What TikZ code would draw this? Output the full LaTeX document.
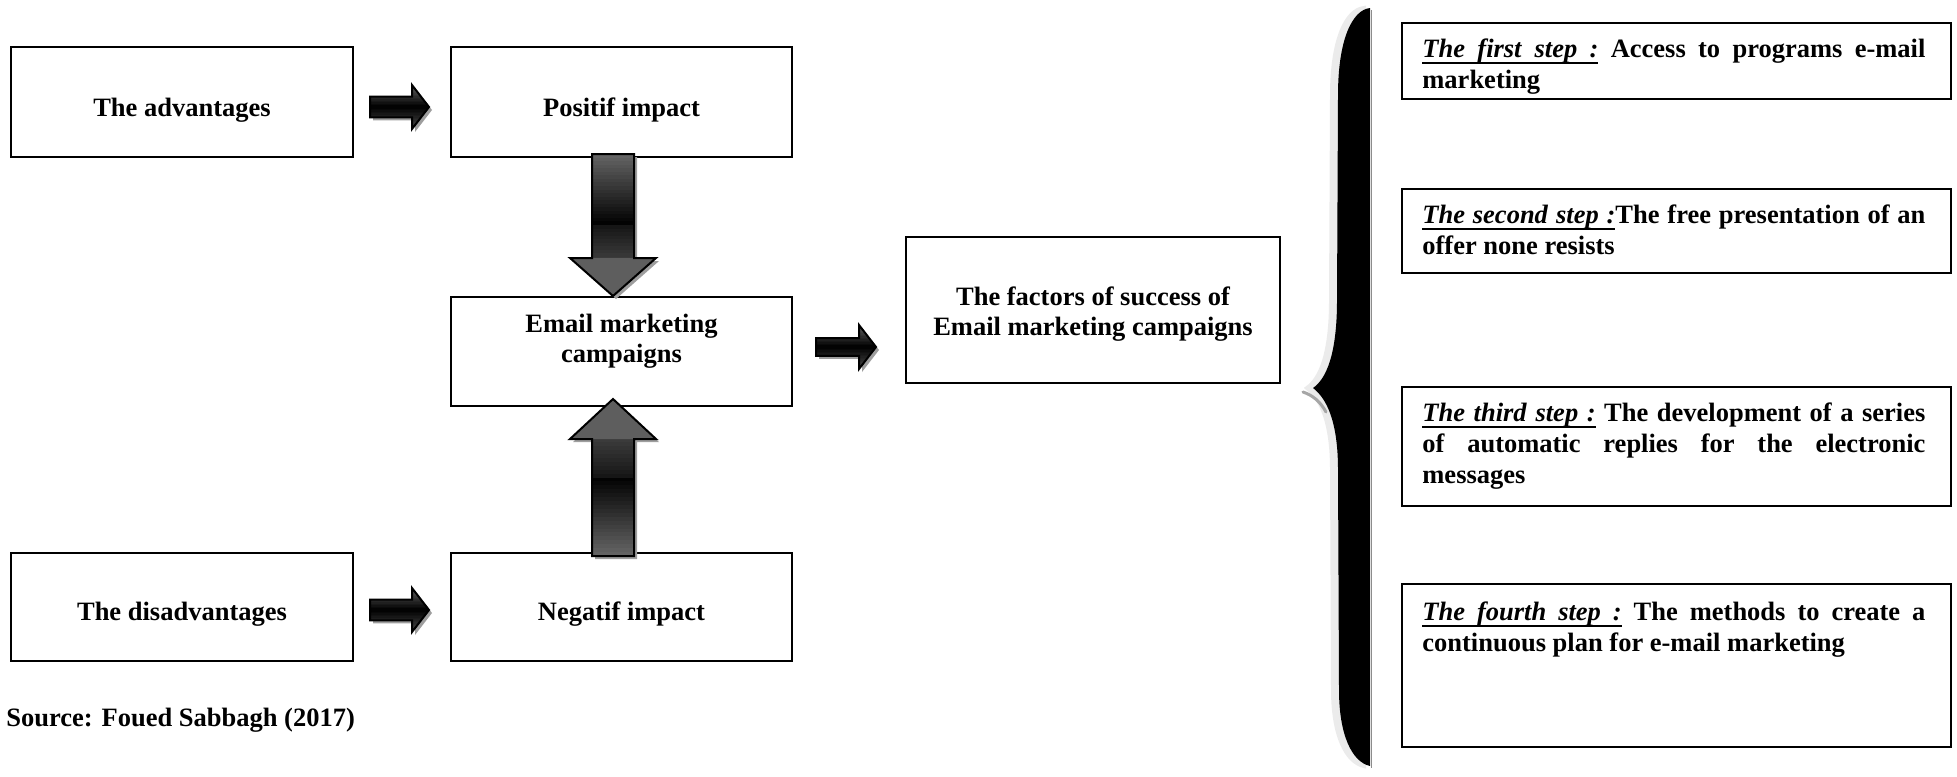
\documentclass[tikz,border=0pt]{standalone}
\usepackage{fontspec}
\setmainfont{Liberation Serif}
\usetikzlibrary{calc}
\hyphenpenalty=10000
\exhyphenpenalty=10000

% underlined word, and an underlined space that still stretches when justified
\newcommand\ulw[1]{\setbox0=\hbox{#1}\rlap{\rule[-3.4pt]{\wd0}{0.8pt}}\box0\relax}
\newcommand\uls{\leaders\hrule height -2.6pt depth 3.4pt\hskip 0.25em plus 0.125em minus 0.08em\relax}

% horizontal block arrow: #1 tail, #2 tip, #3 half thickness of the shaft
\newcommand\HArrow[3]{%
  \begin{scope}[transform canvas={shift={(1.5pt,-1.5pt)}}]
    \fill[ashadow] let \p1=(#1), \p2=(#2) in
      ({\x1},{\y1+#3}) -- ({\x2-8.5pt},{\y1+#3}) -- ({\x2-8.5pt},{\y1+11pt}) -- ({\x2},{\y1})
      -- ({\x2-8.5pt},{\y1-11pt}) -- ({\x2-8.5pt},{\y1-#3}) -- ({\x1},{\y1-#3}) -- cycle;
  \end{scope}
  \begin{scope}
    \clip let \p1=(#1), \p2=(#2) in
      ({\x1},{\y1+#3}) -- ({\x2-8.5pt},{\y1+#3}) -- ({\x2-8.5pt},{\y1+11pt}) -- ({\x2},{\y1})
      -- ({\x2-8.5pt},{\y1-11pt}) -- ({\x2-8.5pt},{\y1-#3}) -- ({\x1},{\y1-#3}) -- cycle;
    % gradient across the arrow: grey at the top, black in the middle, grey below
    \foreach \i in {0,...,29} {
      \pgfmathsetmacro\tt{(\i+0.5)/30}
      \pgfmathsetmacro\cc{ifthenelse(\tt<0.5, 60+40*(2*\tt), 100-30*(2*\tt-1))}
      \fill[black!\cc] let \p1=(#1), \p2=(#2) in
        ({\x1-1pt},{\y1+11.5pt-23pt*\i/30}) rectangle ({\x2+1pt},{\y1+11.5pt-23pt*(\i+1.4)/30});
    }
  \end{scope}
  \draw[aline] let \p1=(#1), \p2=(#2) in
    ({\x1},{\y1+#3}) -- ({\x2-8.5pt},{\y1+#3}) -- ({\x2-8.5pt},{\y1+11pt}) -- ({\x2},{\y1})
    -- ({\x2-8.5pt},{\y1-11pt}) -- ({\x2-8.5pt},{\y1-#3}) -- ({\x1},{\y1-#3}) -- cycle;
}

% vertical block arrow: #1 tail, #2 tip, #3 signed head length
\newcommand\VArrow[3]{%
  \begin{scope}[transform canvas={shift={(1.5pt,-1.5pt)}}]
    \fill[ashadow] let \p1=(#1), \p2=(#2) in
      ({\x1-10.5pt},{\y1}) -- ({\x1-10.5pt},{\y2+#3}) -- ({\x1-21.5pt},{\y2+#3}) -- ({\x1},{\y2})
      -- ({\x1+21.5pt},{\y2+#3}) -- ({\x1+10.5pt},{\y2+#3}) -- ({\x1+10.5pt},{\y1}) -- cycle;
  \end{scope}
  \begin{scope}
    \clip let \p1=(#1), \p2=(#2) in
      ({\x1-10.5pt},{\y1}) -- ({\x1-10.5pt},{\y2+#3}) -- ({\x1-21.5pt},{\y2+#3}) -- ({\x1},{\y2})
      -- ({\x1+21.5pt},{\y2+#3}) -- ({\x1+10.5pt},{\y2+#3}) -- ({\x1+10.5pt},{\y1}) -- cycle;
    % gradient along the arrow: grey at both ends, black halfway
    \foreach \i in {0,...,39} {
      \pgfmathsetmacro\tt{(\i+0.5)/40}
      \pgfmathsetmacro\cc{ifthenelse(\tt<0.5, 60+40*(2*\tt), 92-32*(2*\tt-1))}
      \fill[black!\cc] let \p1=(#1), \p2=(#2) in
        ({\x1-23pt},{\y1+(\y2-\y1)*\i/40}) rectangle ({\x1+23pt},{\y1+(\y2-\y1)*(\i+1.4)/40});
    }
  \end{scope}
  \fill[headfill] let \p1=(#1), \p2=(#2) in
    ({\x1-21.5pt},{\y2+#3}) -- ({\x1},{\y2}) -- ({\x1+21.5pt},{\y2+#3}) -- cycle;
  \draw[aline] let \p1=(#1), \p2=(#2) in
    ({\x1-10.5pt},{\y1}) -- ({\x1-10.5pt},{\y2+#3}) -- ({\x1-21.5pt},{\y2+#3}) -- ({\x1},{\y2})
    -- ({\x1+21.5pt},{\y2+#3}) -- ({\x1+10.5pt},{\y2+#3}) -- ({\x1+10.5pt},{\y1}) -- cycle;
}

\begin{document}
\begin{tikzpicture}[x=0.5pt,y=-0.5pt,
  box/.style={draw=black, line width=1pt, inner sep=0pt, fill=white},
  lbl/.style={inner sep=0pt, font=\fontsize{13.25pt}{15pt}\selectfont\bfseries, align=center},
  steptext/.style={inner sep=0pt, text width=251.5pt, align=justify,
    font=\fontsize{13.25pt}{15.5pt}\selectfont\bfseries},
  ashadow/.style={fill=black!38},
  headfill/.style={fill=black!63},
  aline/.style={draw=black, line width=1pt, line join=miter},
  glow/.style={fill=black!8, draw=black!8, line width=2pt}]

\useasboundingbox (0,0) rectangle (1957,776);

% left column and centre column boxes
\node[box, minimum width=171pt, minimum height=55pt] (adv) at (182,102) {};
\node[box, minimum width=170.5pt, minimum height=55pt] (pos) at (621.5,102) {};
\node[box, minimum width=170.5pt, minimum height=54.5pt] (email) at (621.5,351.5) {};
\node[box, minimum width=171pt, minimum height=54pt] (dis) at (182,607) {};
\node[box, minimum width=170.5pt, minimum height=54pt] (neg) at (621.5,607) {};
\node[box, minimum width=187pt, minimum height=73pt] (fac) at (1093,310) {};

\node[lbl, anchor=base] (advt) at ([yshift=-7pt]adv.center) {The advantages};
\node[lbl, anchor=base] (post) at ([yshift=-7pt]pos.center) {Positif impact};
\node[lbl, anchor=base] (dist) at ([yshift=-6.5pt]dis.center) {The disadvantages};
\node[lbl, anchor=base] (negt) at ([yshift=-6.5pt]neg.center) {Negatif impact};
\node[lbl, anchor=north] (emailt) at ([yshift=20.25pt]email.center) {\strut Email marketing\\campaigns};
\node[lbl, anchor=north] (fact) at ([yshift=13pt]fac.center) {\strut The factors of success of\\Email marketing campaigns};

\node[lbl, anchor=base west] (src) at (6,726) {Source: Foued Sabbagh (2017)};

% the four steps
\node[box, minimum width=274.5pt, minimum height=38pt] (s1) at (1676.5,61) {};
\node[box, minimum width=274.5pt, minimum height=42pt] (s2) at (1676.5,231) {};
\node[box, minimum width=274.5pt, minimum height=59.5pt] (s3) at (1676.5,446.5) {};
\node[box, minimum width=274.5pt, minimum height=81.5pt] (s4) at (1676.5,665.5) {};

\node[steptext, anchor=north west] (s1t) at ([xshift=10.5pt,yshift=-6.5pt]s1.north west)
  {\strut\ulw{\textit{The}}\uls\ulw{\textit{first}}\uls\ulw{\textit{step}}\uls\ulw{\textit{:}} Access to programs e-mail\linebreak marketing};
\node[steptext, anchor=north west] (s2t) at ([xshift=10.5pt,yshift=-6.5pt]s2.north west)
  {\strut\ulw{\textit{The}}\uls\ulw{\textit{second}}\uls\ulw{\textit{step}}\uls\ulw{\textit{:}}The free presentation of an\linebreak offer none resists};
\node[steptext, anchor=north west] (s3t) at ([xshift=10.5pt,yshift=-6.5pt]s3.north west)
  {\strut\ulw{\textit{The}}\uls\ulw{\textit{third}}\uls\ulw{\textit{step}}\uls\ulw{\textit{:}} The development of a series\linebreak of automatic replies for the electronic\linebreak messages};
\node[steptext, anchor=north west] (s4t) at ([xshift=10.5pt,yshift=-7.5pt]s4.north west)
  {\strut\ulw{\textit{The}}\uls\ulw{\textit{fourth}}\uls\ulw{\textit{step}}\uls\ulw{\textit{:}} The methods to create a\linebreak continuous plan for e-mail marketing};

% arrow end points
\coordinate (h1s) at ([xshift=8pt,yshift=-2.5pt]adv.east);
\coordinate (h1e) at ([xshift=-10.5pt,yshift=-2.5pt]pos.west);
\coordinate (h2s) at ([xshift=8pt,yshift=-1.5pt]dis.east);
\coordinate (h2e) at ([xshift=-10.5pt,yshift=-1.5pt]neg.west);
\coordinate (h3s) at ([xshift=11.5pt,yshift=2.25pt]email.east);
\coordinate (h3e) at ($(fac.west |- h3s)+(-14.5pt,0)$);
\coordinate (v1s) at ([xshift=-4.25pt,yshift=2pt]pos.south);
\coordinate (v1e) at ([xshift=-4.25pt]email.north);
\coordinate (v2s) at ([xshift=-4.25pt,yshift=-2pt]neg.north);
\coordinate (v2e) at ([xshift=-4.25pt,yshift=4pt]email.south);

\HArrow{h1s}{h1e}{5.2pt}
\HArrow{h2s}{h2e}{5.2pt}
\HArrow{h3s}{h3e}{4.4pt}
\VArrow{v1s}{v1e}{19pt}
\VArrow{v2s}{v2e}{-20pt}

% the large curly brace
\begin{scope}[xshift=-3pt]
\filldraw[glow] (1370,8) -- (1370,766) .. controls (1352,762) and (1339,735) .. (1339,690)
  -- (1338,470) .. controls (1338,420) and (1326,398) .. (1313,388)
  .. controls (1326,379) and (1337,355) .. (1337,300) -- (1338,95)
  .. controls (1338,40) and (1352,10) .. (1370,8) -- cycle;
\end{scope}
\draw[black!35, line width=1.5pt, line cap=round] (1303,392) .. controls (1312,395) and (1320,401) .. (1326,412);
\draw[black!45, line width=0.6pt] (1371.5,10) -- (1371.5,768);
\fill[black] (1370,8) -- (1370,766) .. controls (1352,762) and (1339,735) .. (1339,690)
  -- (1338,470) .. controls (1338,420) and (1326,398) .. (1313,388)
  .. controls (1326,379) and (1337,355) .. (1337,300) -- (1338,95)
  .. controls (1338,40) and (1352,10) .. (1370,8) -- cycle;

\end{tikzpicture}
\end{document}
